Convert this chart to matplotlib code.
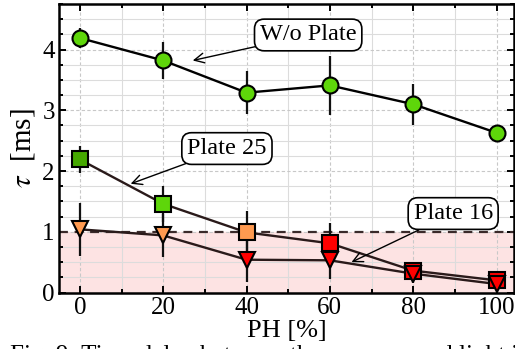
import matplotlib
matplotlib.use("Agg")
import matplotlib.pyplot as plt
from matplotlib.ticker import MultipleLocator

plt.rcParams['font.family'] = ['Liberation Serif', 'DejaVu Serif']
plt.rcParams['mathtext.fontset'] = 'stix'

ph = [0, 20, 40, 60, 80, 100]

wo_plate = [4.19, 3.82, 3.29, 3.41, 3.10, 2.63]
wo_plate_err = [0.17, 0.30, 0.35, 0.49, 0.34, 0.08]
wo_plate_colors = ['#5ed60a'] * 6

plate25 = [2.19, 1.46, 0.99, 0.81, 0.36, 0.20]
plate25_err = [0.23, 0.30, 0.35, 0.33, 0.10, 0.08]
plate25_colors = ['#45a800', '#5ed60a', '#ff9a50', '#ff0000', '#ff0000', '#ff0000']

plate16 = [1.04, 0.94, 0.54, 0.53, 0.31, 0.14]
plate16_err = [0.44, 0.35, 0.37, 0.30, 0.15, 0.10]
plate16_colors = ['#ff9a50', '#ff9a50', '#ff0000', '#ff0000', '#ff0000', '#ff0000']

threshold = 1.0

fig = plt.figure(figsize=(5.15, 3.49), dpi=100)
ax = fig.add_axes([59 / 515, (349 - 292.5) / 349, 455 / 515, 288.5 / 349])

ax.set_xlim(-5, 104.2)
ax.set_ylim(0, 4.75)

ax.axhspan(0, threshold, color='#fde3e3', zorder=0)
ax.axhline(threshold, color='#3a2a2a', lw=1.6, ls=(0, (4, 3)), zorder=2)

ax.xaxis.set_major_locator(MultipleLocator(20))
ax.xaxis.set_minor_locator(MultipleLocator(10))
ax.yaxis.set_major_locator(MultipleLocator(1))
ax.yaxis.set_minor_locator(MultipleLocator(0.25))
ax.grid(which='major', color='#c8c8c8', ls=(0, (3, 2)), lw=0.8, zorder=1)
ax.grid(which='minor', color='#dcdcdc', ls='-', lw=0.8, zorder=1)
ax.set_axisbelow(True)

ax.tick_params(which='both', direction='in', top=True, right=True, width=1.4,
               labelsize=18, pad=3)
ax.tick_params(which='major', length=5)
ax.tick_params(which='minor', length=3)
for s in ax.spines.values():
    s.set_linewidth(1.8)

line_color = '#2a1a1a'


def draw_series(y, err, colors, marker, lcolor, ms):
    ax.plot(ph, y, color=lcolor, lw=1.7, zorder=3)
    ax.errorbar(ph, y, yerr=err, fmt='none', ecolor='#111111', elinewidth=1.6,
                capsize=0, zorder=4)
    for xv, yv, c in zip(ph, y, colors):
        ax.plot([xv], [yv], marker=marker, ms=ms, mfc=c, mec='black',
                mew=1.5, ls='none', zorder=5)


draw_series(wo_plate, wo_plate_err, wo_plate_colors, 'o', 'black', 11.5)
draw_series(plate25, plate25_err, plate25_colors, 's', line_color, 11)
draw_series(plate16, plate16_err, plate16_colors, 'v', line_color, 11.5)

box = dict(boxstyle='round,pad=0.22,rounding_size=0.4', fc='white', ec='black', lw=1.2)
arrow = dict(arrowstyle='->', color='black', lw=1.0, shrinkA=0, shrinkB=0)
ax.annotate('W/o Plate', xy=(27.1, 3.82), xytext=(54.8, 4.24), fontsize=17.5,
            ha='center', va='center', bbox=box, arrowprops=arrow, zorder=6)
ax.annotate('Plate 25', xy=(12.2, 1.79), xytext=(35.3, 2.37), fontsize=17.5,
            ha='center', va='center', bbox=box, arrowprops=arrow, zorder=6)
ax.annotate('Plate 16', xy=(65.2, 0.50), xytext=(89.6, 1.30), fontsize=17.5,
            ha='center', va='center', bbox=box, arrowprops=arrow, zorder=6)

ax.set_xlabel('PH [%]', fontsize=19, labelpad=1)
ax.set_ylabel(r'$\tau$  [ms]', fontsize=21, labelpad=4)

fig.text(10 / 515, -13 / 349, 'Fig. 9: Time delay between the pressure and light intensity',
         fontsize=18, ha='left', va='baseline')

fig.savefig('out.png', dpi=100)
